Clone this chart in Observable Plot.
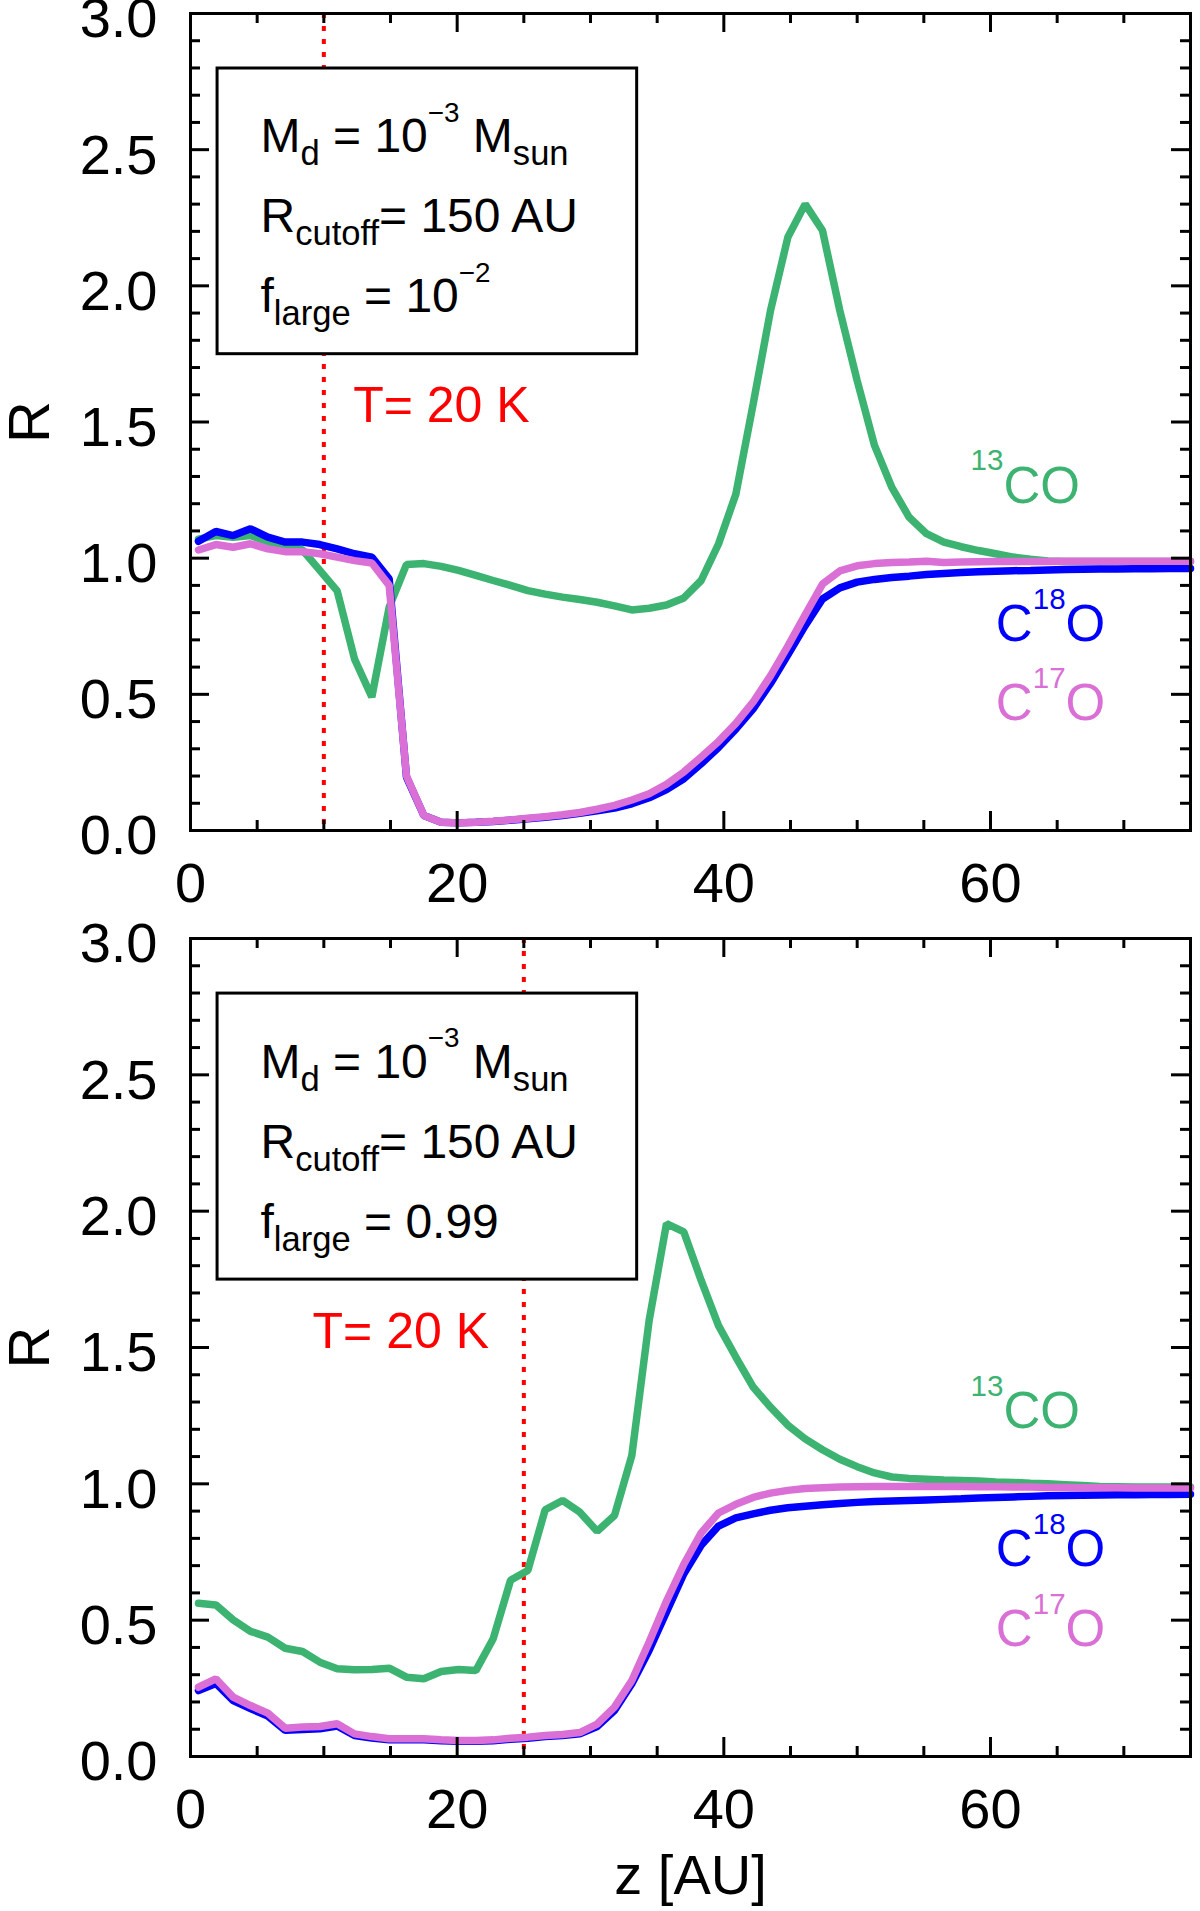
<!DOCTYPE html>
<html>
<head>
<meta charset="utf-8">
<script src="https://cdn.jsdelivr.net/npm/d3@7"></script>
<script src="https://cdn.jsdelivr.net/npm/@observablehq/plot@0.6"></script>
<style>
  body { margin: 0; background: white; }
  #chart svg { display: block; }
</style>
</head>
<body>
<div id="chart"></div>
<script>
// z [AU] sampling
const z = [0.6, 1.9, 3.2, 4.5, 5.8, 7.1, 8.4, 9.7, 11.0, 12.3,
  13.6, 14.9, 16.2, 17.5, 18.8, 20.1, 21.4, 22.7, 24.0, 25.3,
  26.6, 27.9, 29.2, 30.5, 31.8, 33.1, 34.4, 35.7, 37.0, 38.3,
  39.6, 40.9, 42.2, 43.5, 44.8, 46.1, 47.4, 48.7, 50.0, 51.3,
  52.6, 53.9, 55.2, 56.5, 57.8, 59.1, 60.4, 61.7, 63.0, 64.3,
  65.6, 66.9, 68.2, 69.5, 70.8, 72.1, 73.4, 75.0];

// top panel, f_large = 1e-2
const co13Small = [1.070, 1.083, 1.077, 1.083, 1.060, 1.046, 1.030, 0.955, 0.880, 0.630,
  0.490, 0.820, 0.977, 0.980, 0.970, 0.955, 0.937, 0.918, 0.900, 0.881,
  0.868, 0.857, 0.848, 0.838, 0.825, 0.810, 0.816, 0.828, 0.854, 0.918,
  1.052, 1.235, 1.566, 1.909, 2.178, 2.300, 2.203, 1.909, 1.652, 1.414,
  1.260, 1.150, 1.090, 1.059, 1.042, 1.028, 1.016, 1.004, 0.996, 0.990,
  0.988, 0.988, 0.988, 0.988, 0.988, 0.988, 0.988, 0.988];
const c18oSmall = [1.062, 1.098, 1.083, 1.108, 1.077, 1.059, 1.059, 1.050, 1.034, 1.016,
  1.004, 0.924, 0.196, 0.055, 0.030, 0.028, 0.030, 0.033, 0.038, 0.043,
  0.049, 0.055, 0.063, 0.072, 0.082, 0.098, 0.120, 0.150, 0.190, 0.245,
  0.305, 0.372, 0.447, 0.540, 0.645, 0.752, 0.850, 0.891, 0.912, 0.922,
  0.929, 0.934, 0.940, 0.944, 0.947, 0.950, 0.952, 0.954, 0.955, 0.957,
  0.958, 0.959, 0.960, 0.960, 0.961, 0.961, 0.962, 0.962];
const c17oSmall = [1.030, 1.050, 1.040, 1.053, 1.034, 1.024, 1.024, 1.016, 1.004, 0.991,
  0.982, 0.900, 0.200, 0.055, 0.030, 0.028, 0.030, 0.034, 0.039, 0.045,
  0.051, 0.058, 0.066, 0.078, 0.092, 0.112, 0.135, 0.170, 0.215, 0.270,
  0.327, 0.393, 0.472, 0.568, 0.677, 0.792, 0.905, 0.953, 0.972, 0.980,
  0.984, 0.986, 0.989, 0.984, 0.986, 0.987, 0.988, 0.988, 0.988, 0.988,
  0.989, 0.989, 0.989, 0.989, 0.989, 0.989, 0.989, 0.989];

// bottom panel, f_large = 0.99
const co13Large = [0.562, 0.556, 0.501, 0.459, 0.438, 0.397, 0.385, 0.346, 0.322, 0.318,
  0.319, 0.324, 0.291, 0.285, 0.312, 0.319, 0.315, 0.432, 0.646, 0.682,
  0.905, 0.939, 0.896, 0.826, 0.884, 1.104, 1.600, 1.954, 1.924, 1.746,
  1.580, 1.465, 1.355, 1.281, 1.215, 1.165, 1.125, 1.090, 1.063, 1.040,
  1.025, 1.020, 1.017, 1.014, 1.012, 1.010, 1.007, 1.005, 1.002, 1.000,
  0.997, 0.994, 0.990, 0.989, 0.988, 0.988, 0.988, 0.988];
const c18oLarge = [0.242, 0.268, 0.205, 0.176, 0.148, 0.096, 0.099, 0.102, 0.112, 0.077,
  0.068, 0.061, 0.061, 0.061, 0.058, 0.056, 0.056, 0.058, 0.063, 0.067,
  0.073, 0.077, 0.083, 0.110, 0.169, 0.267, 0.390, 0.530, 0.670, 0.775,
  0.845, 0.875, 0.890, 0.903, 0.912, 0.918, 0.923, 0.928, 0.932, 0.935,
  0.937, 0.939, 0.941, 0.943, 0.945, 0.948, 0.950, 0.952, 0.954, 0.956,
  0.957, 0.958, 0.959, 0.960, 0.960, 0.961, 0.961, 0.962];
const c17oLarge = [0.254, 0.285, 0.218, 0.187, 0.159, 0.104, 0.108, 0.110, 0.120, 0.083,
  0.073, 0.065, 0.065, 0.065, 0.061, 0.059, 0.059, 0.061, 0.067, 0.071,
  0.077, 0.081, 0.088, 0.119, 0.181, 0.279, 0.420, 0.570, 0.705, 0.820,
  0.893, 0.925, 0.950, 0.966, 0.976, 0.983, 0.986, 0.988, 0.989, 0.990,
  0.990, 0.990, 0.990, 0.990, 0.990, 0.989, 0.989, 0.988, 0.988, 0.987,
  0.987, 0.986, 0.986, 0.986, 0.985, 0.985, 0.985, 0.985];

// ticks and labels
const xLabels = [0, 20, 40, 60];
const xMajor = [20, 40, 60];
const xMinor = [5, 10, 15, 25, 30, 35, 45, 50, 55, 65, 70];
const yLabels = [0, 0.5, 1, 1.5, 2, 2.5, 3];
const yMajor = [0.5, 1, 1.5, 2, 2.5];
const yMinor = [0.1, 0.2, 0.3, 0.4, 0.6, 0.7, 0.8, 0.9, 1.1, 1.2, 1.3, 1.4,
  1.6, 1.7, 1.8, 1.9, 2.1, 2.2, 2.3, 2.4, 2.6, 2.7, 2.8, 2.9];

// annotations (data units)
const box = {x1: 2.03, x2: 33.5, y1: 1.749, y2: 2.798};
const boxTextX = 5.25;
const boxTextY = [2.49, 2.196, 1.903];
const species = [
  {label: "^{13}CO", x: 58.5, y: 1.204, color: "#3cb371"},
  {label: "C^{18}O", x: 60.4, y: 0.697, color: "#0000ff"},
  {label: "C^{17}O", x: 60.4, y: 0.404, color: "#da70d6"}
];

const panels = [
  {co13: co13Small, c18o: c18oSmall, c17o: c17oSmall, tz: 10, tx: 12.2,
   lines: ["M_{d} = 10^{−3} M_{sun}", "R_{cutoff}= 150 AU", "f_{large} = 10^{−2}"],
   height: 925, bottom: 95, zlabel: false},
  {co13: co13Large, c18o: c18oLarge, c17o: c17oLarge, tz: 25, tx: 9.15,
   lines: ["M_{d} = 10^{−3} M_{sun}", "R_{cutoff}= 150 AU", "f_{large} = 0.99"],
   height: 986, bottom: 155, zlabel: true}
];

const font = "'Liberation Sans', Arial, Helvetica, sans-serif";

function panel(p) {
  const H = p.height - 13 - p.bottom, W = 1000;
  const rows = z.map((v, i) => ({z: v, co13: p.co13[i], c18o: p.c18o[i], c17o: p.c17o[i]}));
  const curve = (key, color) => Plot.line(rows, {x: "z", y: key, stroke: color, strokeWidth: 7.5, strokeLinejoin: "miter"});
  const tk = {stroke: "black", strokeWidth: 3};
  return Plot.plot({
    width: 1200,
    height: p.height,
    marginLeft: 190,
    marginRight: 10,
    marginTop: 13,
    marginBottom: p.bottom,
    x: {domain: [0, 75]},
    y: {domain: [0, 3]},
    style: {fontFamily: font, background: "white", overflow: "visible"},
    marks: [
      Plot.ruleX([p.tz], {x: d => d, stroke: "red", strokeWidth: 4, strokeDasharray: "5,8"}),
      curve("co13", "#3cb371"),
      curve("c18o", "#0000ff"),
      curve("c17o", "#da70d6"),
      Plot.rect([box], {x1: "x1", x2: "x2", y1: "y1", y2: "y2", fill: "white", stroke: "black", strokeWidth: 3}),
      Plot.text(p.lines, {x: () => boxTextX, y: (d, i) => boxTextY[i], text: d => d,
        textAnchor: "start", lineAnchor: "bottom", fontSize: 48, fill: "black"}),
      Plot.text([p.tx], {x: d => d, y: () => 1.5, text: () => "T= 20 K",
        textAnchor: "start", lineAnchor: "bottom", fontSize: 50, fill: "red"}),
      Plot.text(species, {x: "x", y: "y", text: "label", fill: "color",
        textAnchor: "start", lineAnchor: "bottom", fontSize: 51}),
      // inward ticks on all four sides
      Plot.tickX(xMajor, {x: d => d, insetTop: H - 19, ...tk}),
      Plot.tickX(xMinor, {x: d => d, insetTop: H - 10, ...tk}),
      Plot.tickX(xMajor, {x: d => d, insetBottom: H - 19, ...tk}),
      Plot.tickX(xMinor, {x: d => d, insetBottom: H - 10, ...tk}),
      Plot.tickY(yMajor, {y: d => d, insetRight: W - 19, ...tk}),
      Plot.tickY(yMinor, {y: d => d, insetRight: W - 10, ...tk}),
      Plot.tickY(yMajor, {y: d => d, insetLeft: W - 19, ...tk}),
      Plot.tickY(yMinor, {y: d => d, insetLeft: W - 10, ...tk}),
      Plot.frame({stroke: "black", strokeWidth: 3}),
      Plot.axisX({ticks: xLabels, tickSize: 0, tickPadding: 32, fontSize: 56, label: null}),
      Plot.axisY({ticks: yLabels, tickSize: 0, tickPadding: 33, fontSize: 56, dy: 6,
        tickFormat: d3.format(".1f"), label: null}),
      Plot.text(["R"], {frameAnchor: "left", text: d => d, rotate: -90, dx: -160,
        fontSize: 58, textAnchor: "middle", lineAnchor: "middle"}),
      p.zlabel ? Plot.text(["z [AU]"], {frameAnchor: "bottom", text: d => d, dy: 137,
        fontSize: 56, textAnchor: "middle", lineAnchor: "bottom"}) : null
    ]
  });
}

// turn _{..} and ^{..} into sub/superscript tspans
function richText(svg) {
  d3.select(svg).selectAll("text").each(function () {
    const src = this.textContent;
    if (!/[_^]\{/.test(src)) return;
    const fs = parseFloat(getComputedStyle(this).fontSize);
    const el = d3.select(this).text(null);
    let shift = 0, last = 0, m;
    const add = (str, kind) => {
      if (!str) return;
      const target = kind === "_" ? 0.27 * fs : kind === "^" ? -0.63 * fs : 0;
      const t = el.append("tspan").text(str).attr("dy", target - shift);
      if (kind === "_") t.attr("font-size", 0.72 * fs);
      if (kind === "^") t.attr("font-size", 0.58 * fs);
      shift = target;
    };
    const re = /([_^])\{([^}]*)\}/g;
    while ((m = re.exec(src))) {
      add(src.slice(last, m.index), "");
      add(m[2], m[1]);
      last = re.lastIndex;
    }
    add(src.slice(last), "");
  });
}

panels.forEach(p => {
  const chart = panel(p);
  d3.select('#chart').append(() => chart);
  richText(chart);
});
</script>
</body>
</html>
